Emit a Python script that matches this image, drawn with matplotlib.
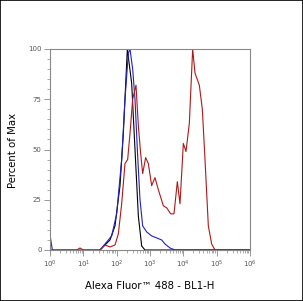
import numpy as np
import matplotlib
matplotlib.use("Agg")
import matplotlib.pyplot as plt
from matplotlib.patches import Rectangle
from matplotlib.ticker import LogLocator, MultipleLocator, FixedLocator

# histogram traces, x as log10 of intensity, y as percent of max
black_logx = [1.5, 1.8, 1.95, 2.1, 2.2, 2.32, 2.45, 2.55, 2.65, 2.75, 2.85, 6.0]
black_y = [0, 5, 12, 32, 58, 100, 83, 50, 17, 2, 0, 0]

blue_logx = [0.0, 0.07, 1.5, 1.85, 2.0, 2.15, 2.25, 2.35, 2.4, 2.48, 2.55, 2.62, 2.7,
             2.78, 2.9, 3.05, 3.2, 3.35, 3.45, 3.6, 3.75, 6.0]
blue_y = [7.5, 0, 0, 7, 18, 45, 75, 98, 100, 90, 75, 50, 25,
          12, 9, 7, 6, 5, 3, 1, 0, 0]

red_logx = [0.0, 0.8, 0.9, 1.0, 1.5, 1.65, 1.8, 1.95, 2.05, 2.15, 2.25, 2.33, 2.4,
            2.48, 2.58, 2.65, 2.72, 2.78, 2.87, 2.95, 3.05, 3.15, 3.25, 3.4, 3.5,
            3.62, 3.72, 3.82, 3.9, 4.0, 4.08, 4.18, 4.28, 4.35, 4.48, 4.57, 4.65,
            4.75, 4.85, 4.95, 6.0]
red_y = [0, 0, 1, 0, 0, 2.5, 1.5, 2.5, 8, 23, 43, 45, 58,
         75, 82, 62, 48, 38, 46, 43, 32, 36, 30, 22, 21,
         18, 18, 34, 23, 53, 49, 63, 100, 88, 82, 70, 45,
         12, 3, 0, 0]

fig = plt.figure(figsize=(3.03, 3.01), dpi=100)
ax = fig.add_axes([50 / 303, 1 - 250 / 301, 200 / 303, 201 / 301])

ax.plot(10 ** np.array(black_logx), black_y, color="black", lw=0.8)
ax.plot(10 ** np.array(blue_logx), blue_y, color="#2020c8", lw=0.8)
ax.plot(10 ** np.array(red_logx), red_y, color="#b01818", lw=0.8)

ax.set_xscale("log")
ax.set_xlim(1, 1e6)
ax.set_ylim(0, 100)
ax.xaxis.set_major_locator(FixedLocator([10 ** i for i in range(7)]))
ax.set_xticklabels([r"$10^{%d}$" % i for i in range(7)])
ax.xaxis.set_minor_locator(LogLocator(base=10, subs=np.arange(2, 10), numticks=20))
ax.yaxis.set_major_locator(FixedLocator([0, 25, 50, 75, 100]))
ax.yaxis.set_minor_locator(MultipleLocator(5))

gray = "#888888"
for s in ax.spines.values():
    s.set_color(gray)
    s.set_linewidth(0.8)
ax.tick_params(which="major", length=4, width=0.6, color=gray, labelsize=5,
               labelcolor="#555555", pad=2)
ax.tick_params(which="minor", length=2, width=0.5, color=gray)

fig.text(13 / 303, 1 - 150 / 301, "Percent of Max", fontsize=7.3, rotation=90,
         ha="center", va="center")
fig.text(150 / 303, 1 - 286 / 301, "Alexa Fluor\u2122 488 - BL1-H", fontsize=7.3,
         ha="center", va="center")

fig.patches.append(Rectangle((0, 0), 1, 1, transform=fig.transFigure, fill=False,
                             edgecolor="black", lw=1.2))

fig.savefig("out.png", dpi=100)
